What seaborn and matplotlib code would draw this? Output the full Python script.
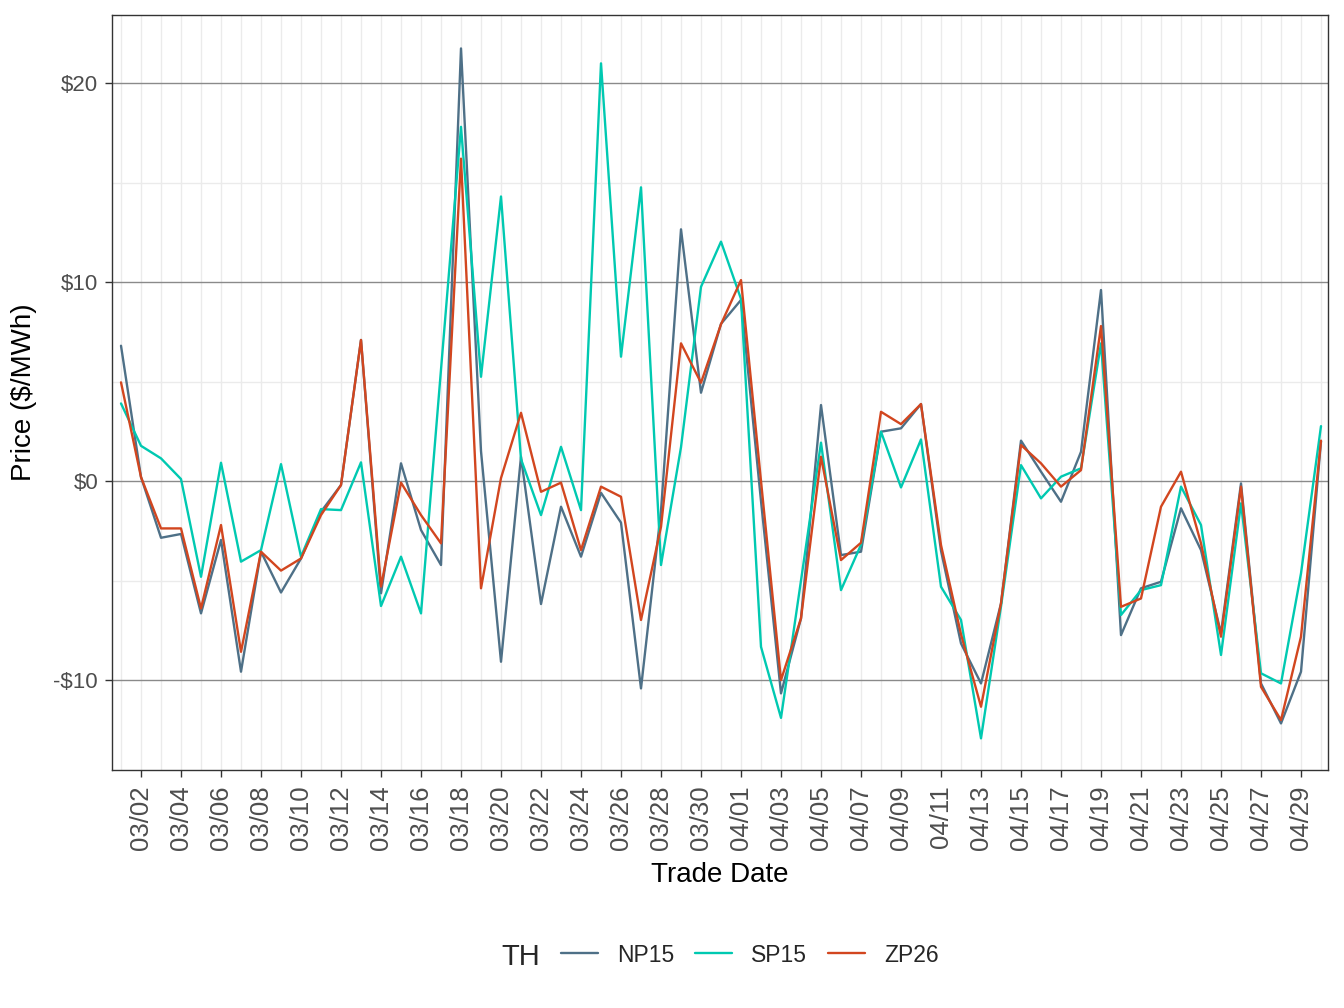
import matplotlib
matplotlib.use("Agg")
import matplotlib.pyplot as plt
import matplotlib.ticker as mticker
from matplotlib.lines import Line2D
import seaborn as sns
import pandas as pd
import numpy as np

trade_dates = pd.date_range("2021-03-01", "2021-04-30", freq="D")

np15 = [6.8, 0.2, -2.85, -2.66, -6.65, -2.96, -9.58, -3.55, -5.6, -3.89,
        -1.54, -0.2, 7.09, -5.64, 0.89, -2.46, -4.22, 21.74, 1.5, -9.08,
        1.22, -6.18, -1.29, -3.8, -0.59, -2.09, -10.42, -1.5, 12.65, 4.44,
        7.9, 9.1, -1.0, -10.67, -6.9, 3.82, -3.72, -3.55, 2.48, 2.65,
        3.87, -3.5, -8.16, -10.17, -6.15, 2.03, 0.47, -1.04, 1.47, 9.6,
        -7.74, -5.39, -5.06, -1.37, -3.47, -7.65, -0.12, -10.17, -12.18, -9.58,
        2.0]
sp15 = [3.9, 1.77, 1.14, 0.1, -4.81, 0.92, -4.05, -3.47, 0.85, -3.8,
        -1.41, -1.46, 0.94, -6.28, -3.8, -6.65, 5.6, 17.8, 5.24, 14.3,
        1.1, -1.71, 1.72, -1.46, 20.99, 6.25, 14.76, -4.22, 1.7, 9.76,
        12.03, 9.15, -8.33, -11.9, -5.0, 1.93, -5.48, -3.2, 2.48, -0.32,
        2.09, -5.31, -6.98, -12.93, -6.3, 0.8, -0.87, 0.22, 0.64, 6.92,
        -6.73, -5.48, -5.23, -0.28, -2.21, -8.74, -1.12, -9.66, -10.17, -4.64,
        2.76]
zp26 = [4.96, 0.2, -2.38, -2.38, -6.4, -2.21, -8.58, -3.55, -4.5, -3.89,
        -1.71, -0.2, 7.09, -5.3, -0.08, -1.71, -3.13, 16.2, -5.39, 0.15,
        3.43, -0.54, -0.08, -3.47, -0.28, -0.79, -6.98, -2.3, 6.92, 4.94,
        7.88, 10.1, 0.0, -10.0, -6.9, 1.22, -3.97, -3.1, 3.48, 2.86,
        3.87, -3.22, -7.7, -11.34, -6.15, 1.81, 0.89, -0.28, 0.55, 7.79,
        -6.32, -5.9, -1.29, 0.47, -3.13, -7.82, -0.28, -10.34, -12.01, -7.82,
        2.03]

hubs = ["NP15", "SP15", "ZP26"]
colors = {"NP15": "#4E7087", "SP15": "#00C9B1", "ZP26": "#D2461F"}
y_major = [-10, 0, 10, 20]
y_minor = [-5, 5, 15]


def money(v, pos):
    return f"-${abs(v):.0f}" if v < 0 else f"${v:.0f}"


def main():
    df = pd.DataFrame({"date": np.tile(trade_dates, 3),
                       "price": np15 + sp15 + zp26,
                       "TH": np.repeat(hubs, len(trade_dates))})

    sns.set_theme(style="white")
    plt.rcParams["font.family"] = ["Liberation Sans", "DejaVu Sans"]

    fig = plt.figure(figsize=(13.44, 10.08), dpi=100)
    ax = fig.add_axes([112 / 1344, 1 - 770 / 1008, 1216 / 1344, 755 / 1008])
    sns.lineplot(data=df, x="date", y="price", hue="TH", palette=colors,
                 linewidth=1.7, ax=ax, legend=False, zorder=3)

    # x axis: tick every 2nd day, minor grid on the others
    ax.set_xticks(trade_dates[1::2])
    ax.set_xticks(trade_dates[0::2], minor=True)
    ax.set_xticklabels([d.strftime("%m/%d") for d in trade_dates[1::2]], rotation=90)
    day = pd.Timedelta(days=1)
    ax.set_xlim(trade_dates[0] - 0.45 * day, trade_dates[-1] + 0.35 * day)

    ax.set_yticks(y_major)
    ax.set_yticks(y_minor, minor=True)
    ax.yaxis.set_major_formatter(mticker.FuncFormatter(money))
    ax.set_ylim(-14.52, 23.42)

    ax.grid(False)
    for d in trade_dates:
        ax.axvline(d, color="#EBEBEB", lw=1.0, zorder=0)
    for v in y_minor:
        ax.axhline(v, color="#EBEBEB", lw=1.0, zorder=0)
    for v in y_major:
        ax.axhline(v, color="#8A8A8A", lw=1.0, zorder=1)

    for s in ax.spines.values():
        s.set_color("#333333")
        s.set_linewidth(1.0)
        s.set_visible(True)

    ax.tick_params(axis="x", which="major", length=5, width=1.0, color="#333333",
                   pad=6, labelsize=18.5, labelcolor="#4D4D4D", bottom=True)
    ax.tick_params(axis="y", which="major", length=5, width=1.0, color="#333333",
                   pad=5, labelsize=16, labelcolor="#4D4D4D", left=True)
    ax.tick_params(which="minor", length=0)

    ax.set_xlabel("Trade Date", fontsize=20, color="black", labelpad=9)
    ax.set_ylabel("Price ($/MWh)", fontsize=20, color="black", labelpad=12)

    handles = [Line2D([], [], color=colors[h], lw=1.7) for h in hubs]
    fig.legend(handles, hubs, loc="center", bbox_to_anchor=(750 / 1344, 1 - 955 / 1008),
               ncol=3, frameon=False, fontsize=16.5, handlelength=1.6,
               handletextpad=0.85, columnspacing=0.9)
    fig.text(521 / 1344, 1 - 957 / 1008, "TH", fontsize=21, ha="center", va="center")

    fig.savefig("out.png", dpi=100)


if __name__ == "__main__":
    main()
